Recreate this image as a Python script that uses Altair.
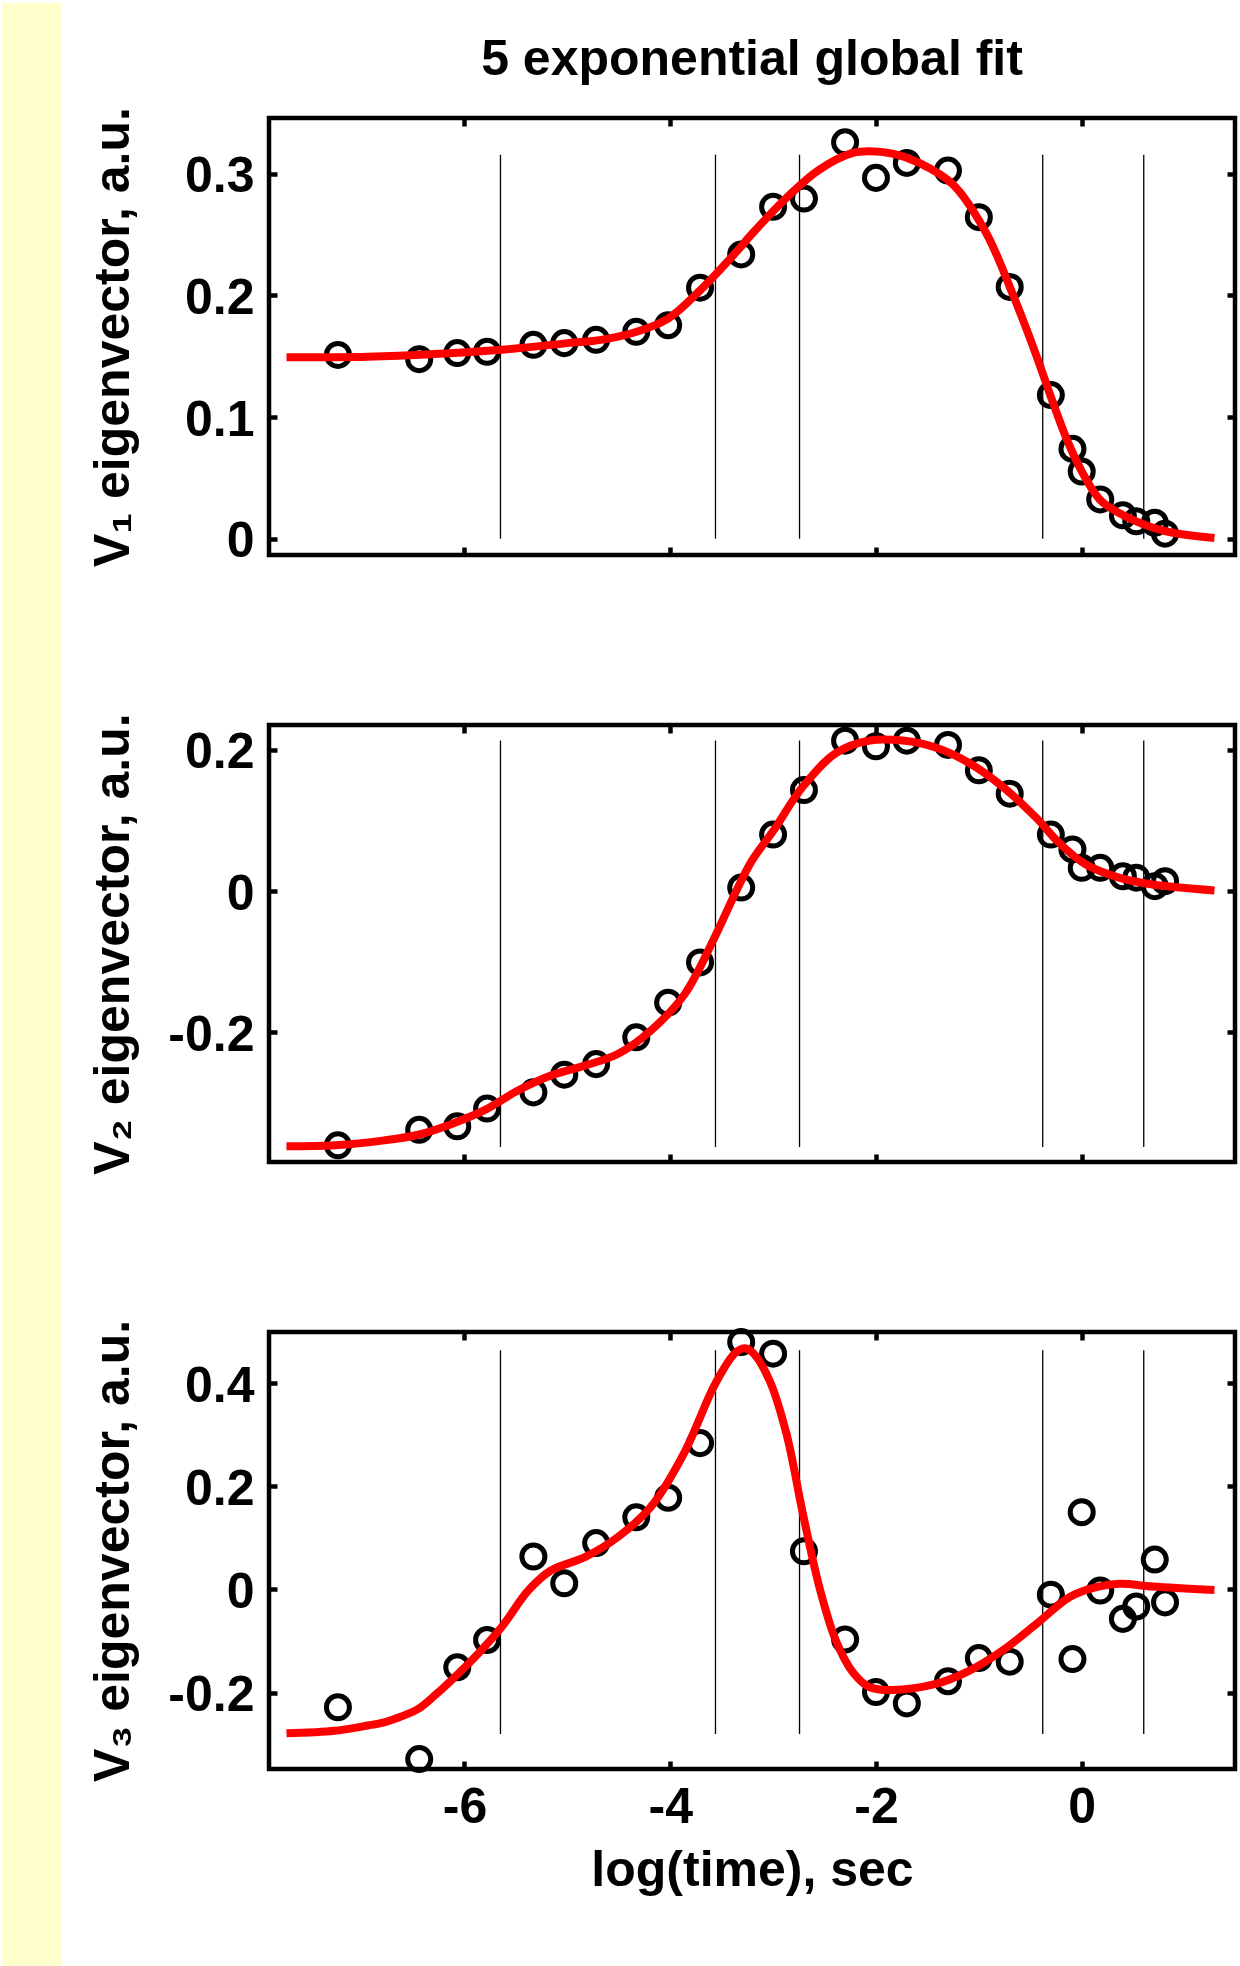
import altair as alt
import pandas as pd

# ---------------- data ----------------
log_time = [-7.23, -6.44, -6.07, -5.78, -5.33, -5.03, -4.72, -4.33, -4.02, -3.71,
            -3.31, -3.00, -2.70, -2.30, -2.00, -1.70, -1.30, -1.00, -0.70, -0.30,
            -0.09, 0.00, 0.18, 0.40, 0.53, 0.71, 0.81]

v1_data = [0.151, 0.1475, 0.1525, 0.1536, 0.1593, 0.1607, 0.1634, 0.170, 0.1754, 0.2063,
           0.2336, 0.2727, 0.2795, 0.3257, 0.2965, 0.3088, 0.3025, 0.2642, 0.2069, 0.118,
           0.0738, 0.0552, 0.0323, 0.0192, 0.0143, 0.0131, 0.0041]
v2_data = [-0.360, -0.338, -0.333, -0.308, -0.285, -0.260, -0.245, -0.207, -0.158, -0.101,
           0.005, 0.080, 0.143, 0.213, 0.205, 0.213, 0.207, 0.171, 0.138, 0.080,
           0.059, 0.033, 0.033, 0.021, 0.019, 0.007, 0.014]
v3_data = [-0.2285, -0.329, -0.151, -0.098, 0.064, 0.012, 0.090, 0.140, 0.178, 0.284,
           0.480, 0.4575, 0.074, -0.097, -0.199, -0.221, -0.178, -0.133, -0.140, -0.010,
           -0.135, 0.150, -0.002, -0.057, -0.033, 0.058, -0.025]

fit1_t = [-7.73, -6.94, -6.29, -5.64, -5.00, -4.67, -4.35, -4.02, -3.70, -3.375, -3.20,
          -2.87, -2.55, -2.225, -2.06, -1.84, -1.58, -1.25, -0.93, -0.67, -0.44, -0.28,
          -0.12, 0.04, 0.20, 0.53, 0.85, 1.29]
fit1_v = [0.149, 0.1495, 0.1517, 0.1552, 0.1607, 0.1634, 0.1694, 0.1809, 0.2049, 0.234, 0.251,
          0.2801, 0.3033, 0.317, 0.3184, 0.3164, 0.3088, 0.291, 0.2514, 0.2008, 0.1503, 0.112,
          0.0766, 0.0492, 0.0301, 0.0143, 0.0055, 0.0006]

fit2_t = [-7.73, -7.26, -6.78, -6.45, -6.13, -5.81, -5.48, -5.16, -4.83, -4.51, -4.19,
          -3.86, -3.57, -3.375, -3.21, -3.00, -2.71, -2.39, -2.06, -1.74, -1.42, -1.09,
          -0.77, -0.44, -0.22, 0.04, 0.37, 0.69, 1.29]
fit2_v = [-0.3614, -0.360, -0.353, -0.345, -0.330, -0.3106, -0.2824, -0.2612, -0.2471, -0.2307,
          -0.1977, -0.146, -0.066, -0.005, 0.042, 0.085, 0.148, 0.1953, 0.2132, 0.2132, 0.2033,
          0.1811, 0.148, 0.1035, 0.0682, 0.0376, 0.0188, 0.0094, 0.001]

fit3_t = [-7.73, -7.26, -6.94, -6.78, -6.615, -6.45, -6.29, -6.13, -5.87, -5.64, -5.38,
          -5.16, -4.83, -4.51, -4.19, -3.86, -3.57, -3.375, -3.28, -3.20, -3.035, -2.87,
          -2.71, -2.55, -2.39, -2.225, -2.06, -1.84, -1.42, -1.09, -0.77, -0.44, -0.12,
          0.14, 0.37, 0.69, 1.29]
fit3_v = [-0.279, -0.274, -0.264, -0.2577, -0.2466, -0.2318, -0.2058, -0.1767, -0.125,
          -0.0732, -0.002, 0.0369, 0.0627, 0.1016, 0.1598, 0.2666, 0.3961, 0.4575, 0.468,
          0.460, 0.4058, 0.3021, 0.1468, 0.0045, -0.099, -0.1606, -0.1897, -0.195, -0.1833,
          -0.1573, -0.1184, -0.0668, -0.015, 0.0045, 0.0109, 0.0058, -0.001]

# lifetimes (vertical lines) and their vertical extent in each panel
tau_log = [-5.65, -3.56, -2.743, -0.379, 0.603]
tau_lo = [0.0, -0.3624, -0.2804]
tau_hi = [0.3155, 0.2132, 0.464]

y_domains = [[-0.0134, 0.3457], [-0.3836, 0.2352], [-0.3483, 0.4996]]
y_ticks = [[0, 0.1, 0.2, 0.3], [-0.2, 0, 0.2], [-0.2, 0, 0.2, 0.4]]
y_titles = ["V\u2081 eigenvector, a.u.", "V\u2082 eigenvector, a.u.", "V\u2083 eigenvector, a.u."]
x_ticks = [-6, -4, -2, 0]
x_domain = [-7.9, 1.49]
main_title = "5 exponential global fit"

FONT = "Liberation Sans"
W = 966
H = 437
GAP = 170
TICK = 8
TW = 4.5
TOP = 115          # page y of the first panel's top edge
LEFT = 266.7       # page x of the panels' left edge
PAGE_H = 1966


def panel(i, vals, ft, fv, show_x):
    pts = pd.DataFrame({"t": log_time, "v": vals})
    fit = pd.DataFrame({"t": ft, "v": fv})
    rules = pd.DataFrame({"t": tau_log, "lo": [tau_lo[i]] * len(tau_log),
                          "hi": [tau_hi[i]] * len(tau_log)})
    xs = alt.Scale(domain=x_domain, nice=False, zero=False)
    ys = alt.Scale(domain=y_domains[i], nice=False, zero=False)

    ax_bottom = alt.Axis(orient="bottom", values=x_ticks, offset=-TICK, tickSize=TICK,
                         tickWidth=TW, tickColor="black", domain=False, grid=False,
                         labels=show_x, labelExpr="toString(datum.value)",
                         labelFont=FONT, labelFontSize=50, labelFontWeight="bold",
                         labelColor="black", labelPadding=13,
                         title="log(time), sec" if show_x else None,
                         titleFont=FONT, titleFontSize=50, titleFontWeight="bold",
                         titleColor="black", titleBaseline="alphabetic",
                         titleY=124, titleX=W / 2, titleAnchor="middle")
    ax_top = alt.Axis(orient="top", values=x_ticks, offset=-TICK, tickSize=TICK,
                      tickWidth=TW, tickColor="black", domain=False, grid=False,
                      labels=False, title=None)
    ax_left = alt.Axis(orient="left", values=y_ticks[i], offset=-TICK, tickSize=TICK,
                       tickWidth=TW, tickColor="black", domain=False, grid=False,
                       labelExpr="toString(datum.value)", labelFont=FONT,
                       labelFontSize=50, labelFontWeight="bold", labelColor="black",
                       labelPadding=15, labelOffset=3,
                       title=y_titles[i], titleFont=FONT, titleFontSize=50,
                       titleFontWeight="bold", titleColor="black", titleAngle=270,
                       titleBaseline="alphabetic", titleAlign="center",
                       titleX=-148.7, titleY=H / 2)
    ax_right = alt.Axis(orient="right", values=y_ticks[i], offset=-TICK, tickSize=TICK,
                        tickWidth=TW, tickColor="black", domain=False, grid=False,
                        labels=False, title=None)

    layers = []
    if i == 0:
        # figure title, centred over the first panel
        ttl = alt.Chart(alt.Data(values=[{"k": 1}])).mark_text(
            text=main_title, font=FONT, fontSize=50, fontWeight="bold", color="black",
            align="center", baseline="alphabetic").encode(
            x=alt.value(W / 2), y=alt.value(-43))
        layers.append(ttl)
    if i == 2:
        # pale-yellow strip down the left edge of the slide (spans the whole page)
        top_off = TOP + 2 * (H + GAP)
        strip = alt.Chart(alt.Data(values=[{"k": 1}])).mark_rect(color="#FFFFCC").encode(
            x=alt.value(-LEFT), x2=alt.value(-LEFT + 59),
            y=alt.value(-top_off), y2=alt.value(PAGE_H - top_off))
        layers.append(strip)

    rule_layer = alt.Chart(rules).mark_rule(color="black", strokeWidth=1.3).encode(
        x=alt.X("t:Q", scale=xs, axis=None),
        y=alt.Y("lo:Q", scale=ys, axis=None),
        y2="hi:Q")
    pt_layer = alt.Chart(pts).mark_point(shape="circle", filled=False, color="black",
                                         size=530, strokeWidth=5, opacity=1).encode(
        x=alt.X("t:Q", scale=xs, axis=ax_bottom),
        y=alt.Y("v:Q", scale=ys, axis=ax_left))
    fit_layer = alt.Chart(fit).mark_line(color="#FF0000", strokeWidth=8,
                                         interpolate="catmull-rom").encode(
        x=alt.X("t:Q", scale=xs, axis=ax_top),
        y=alt.Y("v:Q", scale=ys, axis=ax_right))
    layers += [rule_layer, pt_layer, fit_layer]

    return alt.layer(*layers).resolve_axis(x="independent", y="independent").properties(
        width=W, height=H)


p1 = panel(0, v1_data, fit1_t, fit1_v, False)
p2 = panel(1, v2_data, fit2_t, fit2_v, False)
p3 = panel(2, v3_data, fit3_t, fit3_v, True)

chart = alt.vconcat(p1, p2, p3, spacing=GAP, bounds="flush").properties(
    padding=0, background="white"
).configure_view(stroke="black", strokeWidth=TW)

chart.save("out.html", embed_options={"renderer": "svg", "actions": False})
